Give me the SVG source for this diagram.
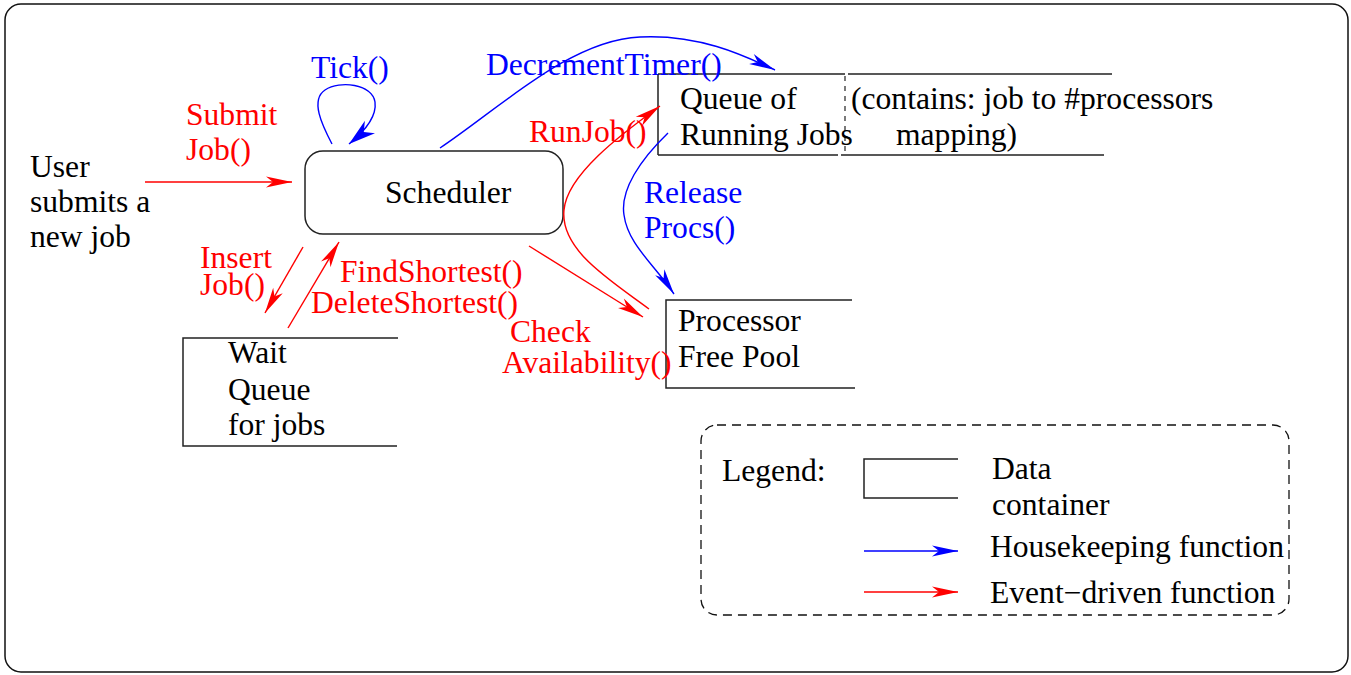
<svg xmlns="http://www.w3.org/2000/svg" width="1351" height="675" viewBox="0 0 1351 675">
<style>
text{font-family:"Liberation Serif","Times New Roman",serif;font-size:31.6px;fill:#000}
.r{fill:#ff0000}
.b{fill:#0000ff}
.box{fill:none;stroke:#222;stroke-width:1.5}
.cr{fill:none;stroke:#ff0000;stroke-width:1.4}
.cb{fill:none;stroke:#0000ff;stroke-width:1.4}
</style>
<defs>
<marker id="ar" viewBox="-28 -7 30 14" markerWidth="30" markerHeight="14" refX="0" refY="0" markerUnits="userSpaceOnUse" orient="auto">
<path d="M0,0 L-26,-5.5 L-19,0 L-26,5.5 Z" fill="#ff0000"/>
</marker>
<marker id="ab" viewBox="-28 -7 30 14" markerWidth="30" markerHeight="14" refX="0" refY="0" markerUnits="userSpaceOnUse" orient="auto">
<path d="M0,0 L-26,-5.5 L-19,0 L-26,5.5 Z" fill="#0000ff"/>
</marker>
<marker id="abig" viewBox="-30 -9 32 18" markerWidth="32" markerHeight="18" refX="0" refY="0" markerUnits="userSpaceOnUse" orient="auto">
<path d="M0,0 L-27,-8 L-19,0 L-27,8 Z" fill="#0000ff"/>
</marker>
</defs>
<rect x="5" y="4" width="1343" height="668" rx="16" fill="#fff" stroke="#111" stroke-width="1.5"/>

<g id="user">
<text x="30" y="177">User</text>
<text x="30" y="212">submits a</text>
<text x="30" y="247">new job</text>
</g>

<g id="scheduler">
<rect x="305" y="151" width="258" height="83" rx="18" class="box"/>
<text x="385" y="203">Scheduler</text>
</g>

<g id="running">
<path d="M658,74 H845 M848,74 H1112 M658,74 V155 M658,155 H838 M841,155 H1104" class="box"/>
<line x1="845" y1="76" x2="845" y2="153" stroke="#222" stroke-width="1.2" stroke-dasharray="5,5"/>
<text x="680" y="109">Queue of</text>
<text x="680" y="145">Running Jobs</text>
<text x="851" y="109">(contains: job to #processors</text>
<text x="896" y="145">mapping)</text>
</g>

<g id="pool">
<path d="M852,300 H666 V388 H855" class="box"/>
<text x="678" y="331">Processor</text>
<text x="678" y="367">Free Pool</text>
</g>

<g id="waitqueue">
<path d="M398,338 H183 V446 H397" class="box"/>
<text x="228" y="363">Wait</text>
<text x="228" y="400">Queue</text>
<text x="228" y="435">for jobs</text>
</g>

<g id="connectors">
<path d="M145,182 H292" class="cr" marker-end="url(#ar)"/>
<path d="M332,144 C322,125 310,100 325,90 C340,80 372,84 375,102 C377,117 365,131 349,144" class="cb" stroke-width="1.6" marker-end="url(#abig)"/>
<path d="M440,148 C500,108 570,40 640,37 C700,34 745,56 775,70" class="cb" marker-end="url(#ab)"/>
<path d="M649,309 C610,280 560,250 564,210 C567,175 620,135 660,106" class="cr" marker-end="url(#ar)"/>
<path d="M529,246 L643,317" class="cr" marker-end="url(#ar)"/>
<path d="M668,133 C640,160 620,190 624,215 C628,245 655,265 674,294" class="cb" marker-end="url(#ab)"/>
<path d="M303,247 L265,313" class="cr" marker-end="url(#ar)"/>
<path d="M288,328 L339,242" class="cr" marker-end="url(#ar)"/>
</g>

<g id="labels">
<text class="r" x="186" y="125">Submit</text>
<text class="r" x="186" y="160">Job()</text>
<text class="b" x="311" y="78">Tick()</text>
<text class="b" x="486" y="75">DecrementTimer()</text>
<text class="r" x="529" y="142">RunJob()</text>
<text class="b" x="644" y="203">Release</text>
<text class="b" x="644" y="238">Procs()</text>
<text class="r" x="200" y="268">Insert</text>
<text class="r" x="200" y="295">Job()</text>
<text class="r" x="340" y="282">FindShortest()</text>
<text class="r" x="311" y="313">DeleteShortest()</text>
<text class="r" x="510" y="342">Check</text>
<text class="r" x="502" y="373">Availability()</text>
</g>

<g id="legend">
<rect x="701" y="425" width="588" height="190" rx="16" fill="none" stroke="#111" stroke-width="1.3" stroke-dasharray="9,6"/>
<text x="722" y="481">Legend:</text>
<path d="M958,459 H864 V498 H958" class="box"/>
<text x="992" y="479">Data</text>
<text x="992" y="515">container</text>
<path d="M864,551 H958" class="cb" marker-end="url(#ab)"/>
<text x="990" y="557">Housekeeping function</text>
<path d="M864,592 H958" class="cr" marker-end="url(#ar)"/>
<text x="990" y="603">Event−driven function</text>
</g>
</svg>
